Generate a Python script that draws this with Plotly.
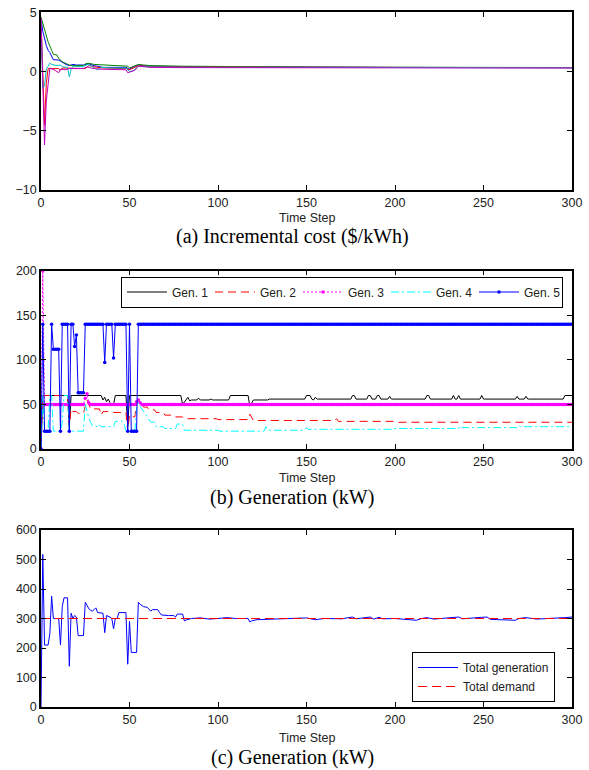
import numpy as np
import plotly.graph_objects as go

W, H = 589, 770

# ---------------- data ----------------
time_ticks = [0, 50, 100, 150, 200, 250, 300]

# (a) incremental cost, breakpoints
a_blue_t = [0, 1, 3, 4, 5, 7, 10, 11, 12, 13, 14, 16, 18, 20, 24, 25, 27, 30, 35, 48, 50, 52, 55, 58, 60, 80, 100, 150, 200, 250, 300]
a_blue_v = [4.5, 3.4, 2.2, 1.8, 1.6, 1.0, 0.97, 0.9, 0.83, 0.7, 0.6, 0.5, 0.6, 0.55, 0.55, 0.6, 0.65, 0.5, 0.35, 0.35, 0.2, 0.35, 0.55, 0.5, 0.45, 0.42, 0.4, 0.37, 0.35, 0.34, 0.33]
a_green_t = [0, 4, 6, 7, 9, 10, 12, 14, 16, 18, 24, 25, 27, 30, 35, 40, 49, 50, 52, 55, 58, 62, 80, 100, 150, 200, 250, 300]
a_green_v = [4.6, 2.5, 1.8, 1.45, 1.4, 1.1, 0.83, 0.7, 0.55, 0.5, 0.5, 0.65, 0.7, 0.6, 0.55, 0.5, 0.45, 0.3, 0.4, 0.6, 0.55, 0.5, 0.45, 0.42, 0.38, 0.36, 0.35, 0.34]
a_red_t = [0, 2, 3, 4, 10, 11, 12, 15, 17, 25, 27, 30, 35, 48, 50, 52, 55, 58, 62, 80, 100, 150, 200, 250, 300]
a_red_v = [4.5, -4.5, -1.0, 0.25, 0.25, 0.1, 0.3, 0.3, 0.25, 0.25, 0.5, 0.4, 0.3, 0.25, 0.15, 0.3, 0.5, 0.45, 0.4, 0.38, 0.37, 0.35, 0.34, 0.33, 0.32]
a_cyan_t = [0, 1, 2, 3, 5, 6, 9, 11, 12, 15, 16, 17, 18, 24, 26, 28, 32, 34, 40, 48, 50, 52, 55, 58, 62, 80, 100, 150, 200, 250, 300]
a_cyan_v = [4.5, -1.4, -1.2, 0.2, 0.7, 0.6, 0.5, 0.55, 0.4, 0.35, -0.45, 0.2, 0.45, 0.4, 0.6, 0.5, 0.15, 0.35, 0.3, 0.3, 0.0, 0.05, 0.45, 0.4, 0.38, 0.36, 0.35, 0.34, 0.33, 0.33, 0.32]
a_mag_t = [0, 2, 3, 5, 8, 10, 11, 14, 16, 24, 26, 28, 33, 40, 48, 49, 51, 53, 55, 58, 62, 80, 100, 150, 200, 250, 300]
a_mag_v = [4.5, -6.2, -2.5, 0.3, 0.1, -0.1, 0.2, 0.15, 0.25, 0.25, 0.4, 0.3, 0.2, 0.2, 0.15, -0.1, 0.0, 0.1, 0.45, 0.4, 0.35, 0.33, 0.32, 0.31, 0.3, 0.3, 0.3]

# (b) generation per generator, as (value, number of steps) runs from t = 0
gen1_vals = [0, 60, 25, 60, 55, 58, 53, 56, 52, 50, 60, 25, 60, 50, 53, 56, 58, 54, 55, 57, 55, 56, 55, 60, 48, 52, 55, 56, 60, 56, 55, 58, 56, 60, 56, 60, 56, 60, 56, 59, 56, 60, 56, 60, 56, 60, 56, 60, 56, 59, 56, 59, 56, 60]
gen1_runs = [1, 15, 1, 18, 1, 1, 1, 1, 1, 2, 7, 1, 30, 1, 1, 1, 1, 1, 4, 1, 6, 1, 10, 11, 1, 1, 9, 21, 3, 1, 1, 1, 20, 2, 7, 2, 3, 2, 5, 1, 20, 2, 13, 1, 2, 1, 12, 1, 19, 1, 4, 1, 21, 5]
gen2_vals = [0, 60, 25, 45, 42, 40, 48, 55, 50, 45, 38, 42, 41, 20, 38, 36, 50, 55, 53, 50, 47, 44, 41, 38, 36, 34, 33, 39, 35, 32, 34, 31, 30]
gen2_runs = [1, 15, 1, 1, 3, 4, 1, 1, 1, 6, 1, 6, 8, 1, 1, 3, 1, 1, 1, 1, 3, 4, 5, 6, 5, 19, 18, 1, 1, 47, 1, 32, 101]
gen3_vals = [0, 200, 50, 57, 62, 52, 50, 53, 55, 52, 50]
gen3_runs = [1, 1, 23, 1, 1, 1, 26, 1, 1, 1, 244]
gen4_vals = [0, 60, 20, 60, 20, 30, 60, 20, 50, 42, 35, 30, 26, 24, 27, 25, 31, 28, 20, 45, 52, 48, 45, 42, 38, 36, 33, 30, 25, 23, 28, 21, 20, 25, 21, 24, 22, 23, 26, 24, 26, 25]
gen4_runs = [1, 1, 3, 2, 5, 1, 3, 9, 1, 1, 1, 1, 3, 1, 1, 8, 5, 1, 6, 1, 1, 1, 1, 1, 1, 1, 1, 3, 5, 7, 4, 20, 26, 1, 22, 1, 49, 37, 1, 32, 1, 30]
gen5_vals = [0, 140, 20, 140, 112, 20, 140, 20, 140, 115, 128, 63, 140, 97, 140, 102, 140, 20, 140, 20, 140]
gen5_runs = [1, 1, 4, 1, 4, 1, 4, 1, 2, 1, 1, 4, 11, 1, 4, 1, 7, 1, 1, 4, 246]

# (c) total generation (breakpoints) and total demand
tot_t = [0, 1, 2, 4, 5, 6, 7, 10, 11, 12, 13, 15, 16, 17, 18, 19, 20, 21, 24, 25, 26, 27, 28, 29, 30, 31, 32, 35, 36, 37, 39, 40, 41, 42, 43, 44, 48, 49, 50, 51, 54, 55, 56, 57, 58, 60, 61, 62, 63, 66, 67, 68, 72, 75, 76, 77, 80, 81, 82, 85, 90, 95, 100, 105, 110, 117, 118, 119, 122, 130, 140, 150, 155, 160, 170, 176, 178, 186, 188, 191, 193, 200, 212, 215, 218, 222, 236, 238, 249, 252, 254, 268, 270, 274, 280, 290, 296, 300]
tot_v = [0, 517, 210, 210, 248, 376, 300, 300, 210, 340, 370, 370, 138, 318, 300, 310, 305, 242, 242, 355, 345, 333, 328, 325, 330, 336, 320, 318, 252, 310, 305, 300, 265, 300, 300, 320, 320, 145, 290, 185, 185, 355, 348, 345, 340, 338, 330, 325, 330, 330, 320, 312, 310, 310, 305, 315, 315, 292, 295, 300, 302, 298, 300, 303, 300, 300, 288, 292, 296, 298, 300, 302, 296, 300, 299, 305, 299, 305, 298, 304, 299, 300, 294, 300, 303, 298, 305, 299, 304, 305, 297, 294, 300, 303, 298, 300, 303, 305]
dem_t = [0, 300]
dem_v = [300, 300]

# ---------------- figure ----------------
SANS = "Liberation Sans, Arial, Helvetica, sans-serif"
SERIF = "Liberation Serif, Times New Roman, serif"

fig = go.Figure()

def add(x, y, ax, **kw):
    fig.add_trace(go.Scatter(x=x, y=y, xaxis="x" + ax, yaxis="y" + ax, **kw))

# panel (a)
for t, v, c in [(a_blue_t, a_blue_v, "#0000FF"), (a_green_t, a_green_v, "#008000"),
                (a_red_t, a_red_v, "#FF0000"), (a_cyan_t, a_cyan_v, "#00BFBF"),
                (a_mag_t, a_mag_v, "#BF00BF")]:
    add(t, v, "", mode="lines", line=dict(color=c, width=1), showlegend=False, hoverinfo="skip")

# panel (b)
def expand(vals, runs):
    return np.repeat(np.array(vals, dtype=float), runs)

g1 = expand(gen1_vals, gen1_runs)
g2 = expand(gen2_vals, gen2_runs)
g3 = expand(gen3_vals, gen3_runs)
g4 = expand(gen4_vals, gen4_runs)
g5 = expand(gen5_vals, gen5_runs)

add(np.arange(len(g1)), g1, "2", mode="lines", name="Gen. 1", legend="legend",
    line=dict(color="black", width=1))
add(np.arange(len(g2)), g2, "2", mode="lines", name="Gen. 2", legend="legend",
    line=dict(color="#FF0000", width=1, dash="8px,5px"))
add(np.arange(len(g3)), g3, "2", mode="lines+markers", name="Gen. 3", legend="legend",
    line=dict(color="#FF00FF", width=1, dash="2px,2px"), marker=dict(size=3.5, color="#FF00FF"))
add(np.arange(len(g4)), g4, "2", mode="lines", name="Gen. 4", legend="legend",
    line=dict(color="#00FFFF", width=1, dash="8px,3px,2px,3px"))
add(np.arange(len(g5)), g5, "2", mode="lines+markers", name="Gen. 5", legend="legend",
    line=dict(color="#0000FF", width=1), marker=dict(size=3.5, color="#0000FF"))

# panel (c)
add(tot_t, tot_v, "3", mode="lines", name="Total generation", legend="legend2",
    line=dict(color="#0000FF", width=1))
add(dem_t, dem_v, "3", mode="lines", name="Total demand", legend="legend2",
    line=dict(color="#FF0000", width=1, dash="9px,5px"))

xdom = [41 / W, 572 / W]
def ydom(top, bot):
    return [1 - bot / H, 1 - top / H]

axis_common = dict(showline=True, linecolor="black", linewidth=1.5, mirror="ticks",
                   ticks="inside", ticklen=5, tickwidth=1, tickcolor="black",
                   showgrid=False, zeroline=False, automargin=False,
                   tickfont=dict(family=SANS, size=12.5, color="#222"))

layout = dict(width=W, height=H, margin=dict(l=0, r=0, t=0, b=0, autoexpand=False),
              paper_bgcolor="white", plot_bgcolor="white", showlegend=True)
for i, (ax, top, bot, yr, yt) in enumerate([
        ("", 12.3, 190, [-10, 5], [-10, -5, 0, 5]),
        ("2", 270.7, 449, [0, 200], [0, 50, 100, 150, 200]),
        ("3", 530, 707, [0, 600], [0, 100, 200, 300, 400, 500, 600])]):
    xa = "xaxis" + ax
    ya = "yaxis" + ax
    layout[xa] = dict(axis_common, domain=xdom, range=[0, 300], tickvals=time_ticks,
                      anchor="y" + ax)
    layout[ya] = dict(axis_common, domain=ydom(top, bot), range=yr, tickvals=yt,
                      anchor="x" + ax)

layout["legend"] = dict(orientation="h", x=121 / W, xanchor="left", y=1 - 276.5 / H, yanchor="top",
                        bordercolor="black", borderwidth=1, bgcolor="white",
                        font=dict(family=SANS, size=12, color="#222"), itemwidth=40,
                        entrywidth=33, entrywidthmode="pixels")
layout["legend2"] = dict(orientation="v", x=412 / W, xanchor="left", y=1 - 702 / H, yanchor="bottom",
                         bordercolor="black", borderwidth=1, bgcolor="white",
                         font=dict(family=SANS, size=12, color="#222"), itemwidth=40,
                         tracegroupgap=0)

annotations = []
for ylab, ycap, cap in [(218, 237, "(a) Incremental cost ($/kWh)"),
                        (478, 497, "(b) Generation (kW)"),
                        (738, 757, "(c) Generation (kW)")]:
    annotations.append(dict(text="Time Step", x=307 / W, y=1 - ylab / H, xref="paper", yref="paper",
                            showarrow=False, xanchor="center", yanchor="middle",
                            font=dict(family=SANS, size=12.5, color="#222")))
    annotations.append(dict(text=cap, x=292 / W, y=1 - ycap / H, xref="paper", yref="paper",
                            showarrow=False, xanchor="center", yanchor="middle",
                            font=dict(family=SERIF, size=20, color="black")))
layout["annotations"] = annotations

fig.update_layout(**layout)
fig.write_html("out.html", config={"displayModeBar": False},
               post_script="document.body.style.margin='0px';document.body.style.overflow='hidden';")
